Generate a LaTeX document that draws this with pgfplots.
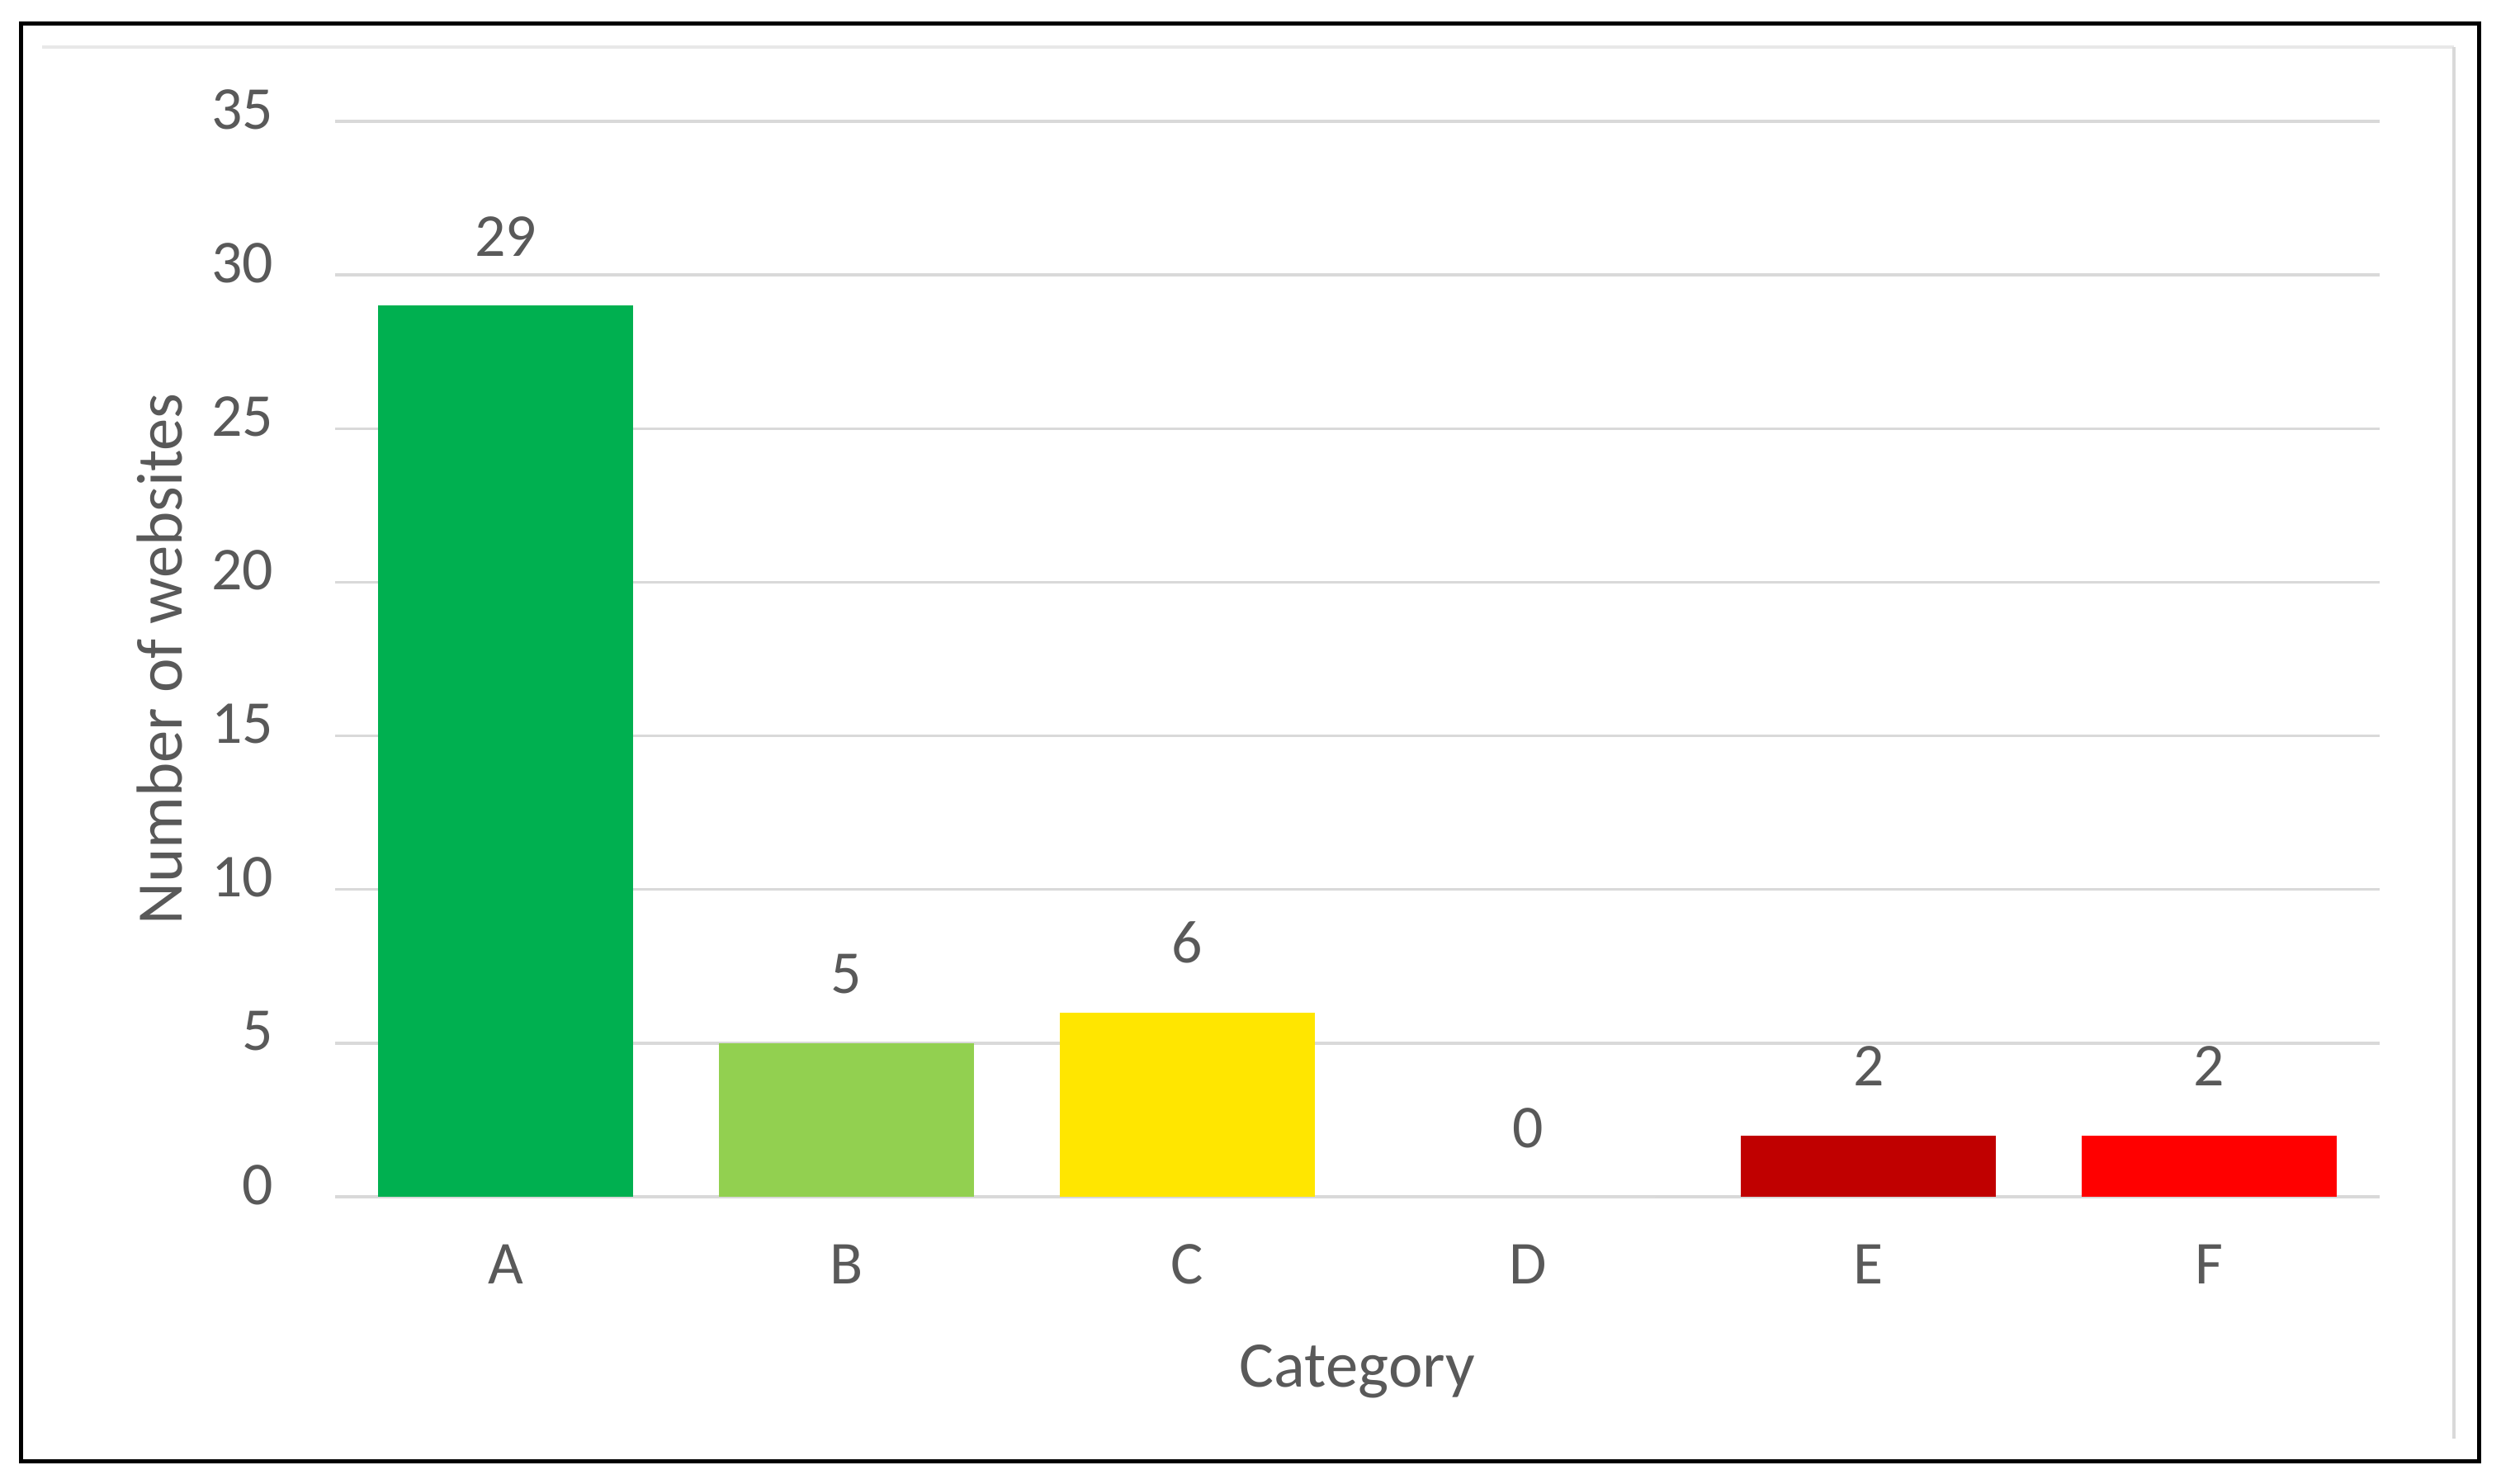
\documentclass[border=0pt]{standalone}
\usepackage{pgfplots}
\pgfplotsset{compat=1.18}
\usepackage{fontspec}
\setmainfont{Carlito}
\definecolor{txt}{HTML}{595959}
\definecolor{grd}{HTML}{D9D9D9}
\definecolor{cA}{HTML}{00B050}
\definecolor{cB}{HTML}{92D050}
\definecolor{cC}{HTML}{FFE600}
\definecolor{cE}{HTML}{C00000}
\definecolor{cF}{HTML}{FF0000}
\begin{document}
\begin{tikzpicture}[x=1cm,y=1cm]
\path[use as bounding box] (0,0) rectangle (30.30,17.97);
\draw[line width=0.05cm,black] (0.25,0.27) rectangle (30.03,17.68);
\draw[line width=0.04cm,color=grd!60] (0.51,17.40) -- (29.73,17.40);
\draw[line width=0.04cm,color=grd] (29.73,17.40) -- (29.73,0.54);
\begin{axis}[
  at={(4.06cm,3.47cm)}, anchor=south west,
  scale only axis, width=24.77cm, height=13.03cm,
  xmin=-0.5, xmax=5.5, ymin=0, ymax=35,
  xtick={0,1,2,3,4,5}, xticklabels={A,B,C,D,E,F},
  ytick={0,5,10,15,20,25,30,35},
  axis line style={draw=none},
  major tick length=0pt,
  ymajorgrids, grid style={color=grd, line width=0.035cm},
  /pgf/number format/assume math mode=true,
  tick label style={font=\fontsize{21}{25}\selectfont, text=txt},
  xticklabel style={anchor=base, yshift=-1.05cm, inner sep=0pt},
  yticklabel style={anchor=base east, xshift=-0.74cm, yshift=-0.09cm, inner sep=0pt},
  xlabel={Category}, ylabel={Number of websites},
  label style={font=\fontsize{22.4}{27}\selectfont, text=txt},
  xlabel style={at={(axis description cs:0.5,-0.1627)}, anchor=center},
  ylabel style={at={(axis description cs:-0.086,0.5)}, anchor=center},
  every axis plot/.append style={ybar, bar width=3.09cm, bar shift=0pt, draw=none},
  nodes near coords,
  nodes near coords style={font=\fontsize{21}{25}\selectfont, text=txt, anchor=base, inner sep=0pt, yshift=0.6cm},
]
\addplot[fill=cA] coordinates {(0,29)};
\addplot[fill=cB] coordinates {(1,5)};
\addplot[fill=cC] coordinates {(2,6)};
\addplot[fill=white, draw=none] coordinates {(3,0)};
\addplot[fill=cE] coordinates {(4,2)};
\addplot[fill=cF] coordinates {(5,2)};
\end{axis}
\end{tikzpicture}
\end{document}
